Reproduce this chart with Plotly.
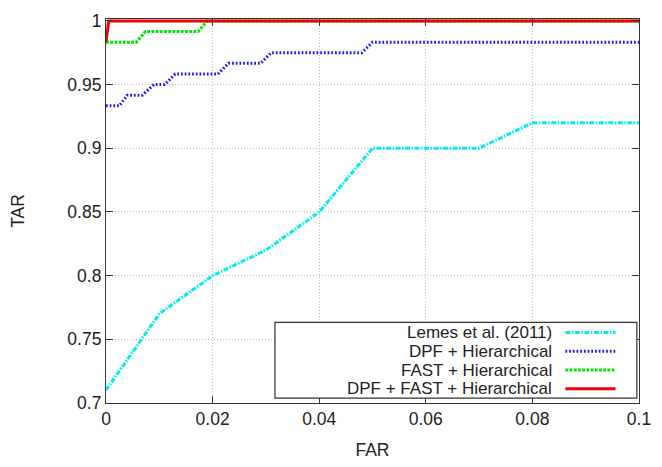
import plotly.graph_objects as go

# ---- data ----
lemes_far = [0.0, 0.01, 0.02, 0.03, 0.04, 0.05, 0.07, 0.08, 0.1]
lemes_tar = [0.71, 0.77, 0.80, 0.82, 0.85, 0.90, 0.90, 0.92, 0.92]

dpf_far = [0.0, 0.0025, 0.004, 0.0068, 0.009, 0.011, 0.013, 0.021, 0.023, 0.029, 0.031, 0.048, 0.050, 0.1]
dpf_tar = [0.9333, 0.9333, 0.9417, 0.9417, 0.95, 0.95, 0.9583, 0.9583, 0.9667, 0.9667, 0.975, 0.975, 0.9833, 0.9833]

fast_far = [0.0, 0.0057, 0.0074, 0.0173, 0.019, 0.1]
fast_tar = [0.9833, 0.9833, 0.9917, 0.9917, 1.0, 1.0]

all_far = [0.0, 0.0005, 0.1]
all_tar = [0.9833, 1.0, 1.0]

names = ["Lemes et al. (2011)", "DPF + Hierarchical", "FAST + Hierarchical", "DPF + FAST + Hierarchical"]
colors = ["rgb(0,238,238)", "rgb(20,20,255)", "rgb(0,230,0)", "rgb(240,0,0)"]
dashes = ["5px,1.5px,1.5px,1.5px", "1.7px,2px", "2.8px,1.4px", "solid"]

x_ticks = [0, 0.02, 0.04, 0.06, 0.08, 0.1]
x_tick_text = ["0", "0.02", "0.04", "0.06", "0.08", "0.1"]
y_ticks = [0.7, 0.75, 0.8, 0.85, 0.9, 0.95, 1.0]
y_tick_text = ["0.7", "0.75", "0.8", "0.85", "0.9", "0.95", "1"]

series = [(lemes_far, lemes_tar), (dpf_far, dpf_tar), (fast_far, fast_tar), (all_far, all_tar)]

FONT = "Liberation Sans, Arial, sans-serif"
FS = 17.5
LEG_FS = 17

fig = go.Figure()
for (xs, ys), nm, c, d in zip(series, names, colors, dashes):
    fig.add_trace(go.Scatter(x=xs, y=ys, mode="lines", name=nm,
                             line=dict(color=c, width=3, dash=d),
                             showlegend=False, hoverinfo="skip"))

axis_common = dict(
    showline=True, linecolor="#333333", linewidth=1.2, mirror="allticks",
    ticks="inside", ticklen=7, tickcolor="#333333", tickwidth=1.2,
    showgrid=True, gridcolor="#bdbdbd", griddash="1px,2px", gridwidth=1,
    zeroline=False,
    tickfont=dict(family=FONT, size=FS, color="#222222"),
)

fig.update_xaxes(range=[0, 0.1], tickvals=x_ticks, ticktext=x_tick_text,
                 title=dict(text="FAR", font=dict(family=FONT, size=FS, color="#222222"), standoff=15),
                 **axis_common)
fig.update_yaxes(range=[0.7, 1.0015], tickvals=y_ticks, ticktext=y_tick_text,
                 title=dict(text="TAR", font=dict(family=FONT, size=FS, color="#222222"), standoff=38),
                 **axis_common)

# custom gnuplot-style legend (text right-aligned, sample on the right)
shapes = [dict(type="rect", xref="paper", yref="paper", x0=0.317, x1=0.996, y0=0.0127, y1=0.210,
               line=dict(color="#333333", width=1.2), fillcolor="white", layer="above")]
annotations = []
row_y = [0.1835, 0.1347, 0.0858, 0.0370]
for nm, c, d, yy in zip(names, colors, dashes, row_y):
    annotations.append(dict(xref="paper", yref="paper", x=0.838, y=yy, text=nm, showarrow=False,
                            xanchor="right", yanchor="middle", borderpad=0,
                            font=dict(family=FONT, size=LEG_FS, color="#222222")))
    shapes.append(dict(type="line", xref="paper", yref="paper", x0=0.862, x1=0.956, y0=yy, y1=yy,
                       line=dict(color=c, width=3, dash=d), layer="above"))

fig.update_layout(
    width=662, height=467,
    margin=dict(l=106, r=14, t=11, b=61),
    plot_bgcolor="white", paper_bgcolor="white",
    shapes=shapes, annotations=annotations,
    showlegend=False, hovermode=False,
)

fig.write_html("out.html", config={"displayModeBar": False},
               post_script="document.body.style.margin='0';document.body.style.overflow='hidden';")
